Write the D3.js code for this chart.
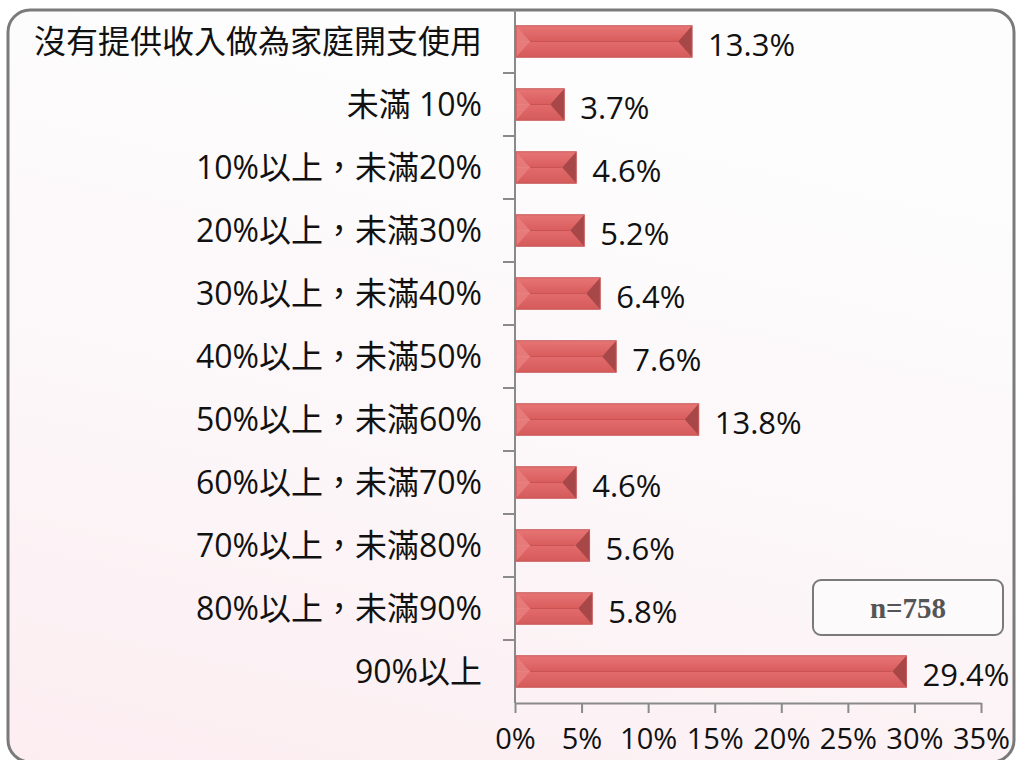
<!DOCTYPE html>
<html>
<head>
<meta charset="utf-8">
<title>家庭開支比例</title>
<script src="https://d3js.org/d3.v7.min.js"></script>
<style>
    body { margin: 0; background: #ffffff; }
    text { font-family: "Open Sans", "Noto Sans CJK TC", sans-serif; }
</style>
</head>
<body>
<div id="chart"></div>
<script>
// 資料
const categories = [
    "沒有提供收入做為家庭開支使用",
    "未滿 10%",
    "10%以上，未滿20%",
    "20%以上，未滿30%",
    "30%以上，未滿40%",
    "40%以上，未滿50%",
    "50%以上，未滿60%",
    "60%以上，未滿70%",
    "70%以上，未滿80%",
    "80%以上，未滿90%",
    "90%以上"
];
const values = [13.3, 3.7, 4.6, 5.2, 6.4, 7.6, 13.8, 4.6, 5.6, 5.8, 29.4];
const xTicks = [0, 5, 10, 15, 20, 25, 30, 35];
const sampleNote = "n=758";

const W = 1016, H = 760;
const svg = d3.select("#chart").append("svg")
    .attr("width", W).attr("height", H);

const defs = svg.append("defs");
const bg = defs.append("linearGradient").attr("id", "bg")
    .attr("x1", 0.3).attr("y1", 0).attr("x2", 0).attr("y2", 1);
bg.append("stop").attr("offset", "0%").attr("stop-color", "#fdfdfd");
bg.append("stop").attr("offset", "55%").attr("stop-color", "#fcf6f8");
bg.append("stop").attr("offset", "100%").attr("stop-color", "#fcedf1");

const gTop = defs.append("linearGradient").attr("id", "barTop")
    .attr("x1", 0).attr("y1", 0).attr("x2", 0).attr("y2", 1);
gTop.append("stop").attr("offset", "0%").attr("stop-color", "#e77575");
gTop.append("stop").attr("offset", "100%").attr("stop-color", "#d95c5c");
const gBot = defs.append("linearGradient").attr("id", "barBot")
    .attr("x1", 0).attr("y1", 0).attr("x2", 0).attr("y2", 1);
gBot.append("stop").attr("offset", "0%").attr("stop-color", "#e36b6b");
gBot.append("stop").attr("offset", "100%").attr("stop-color", "#d55b5b");

// 外框
svg.append("rect")
    .attr("x", 8).attr("y", 10).attr("width", 1006).attr("height", 752)
    .attr("rx", 22).attr("ry", 22)
    .attr("fill", "url(#bg)")
    .attr("stroke", "#7a7a7a").attr("stroke-width", 3);

const x0 = 515;
const x = d3.scaleLinear().domain([0, 35]).range([x0, 981]);
const y = d3.scaleBand().domain(categories).range([10, 703])
    .paddingInner(0.5).paddingOuter(0.25);

// y 軸
svg.append("line")
    .attr("x1", x0).attr("x2", x0).attr("y1", 10).attr("y2", 703)
    .attr("stroke", "#8a8a8a").attr("stroke-width", 2);
const gap = y.step() - y.bandwidth();
svg.selectAll(".ytick")
    .data(categories.slice(1))
    .enter().append("line")
    .attr("class", "ytick")
    .attr("x1", x0 - 12).attr("x2", x0)
    .attr("y1", d => y(d) - gap / 2)
    .attr("y2", d => y(d) - gap / 2)
    .attr("stroke", "#8a8a8a").attr("stroke-width", 2);

// x 軸
const xAxis = svg.append("g")
    .attr("transform", "translate(0,703)")
    .call(d3.axisBottom(x).tickValues(xTicks).tickFormat(d => d + "%").tickSize(10).tickSizeOuter(0));
xAxis.select(".domain").attr("stroke", "#8a8a8a").attr("stroke-width", 2);
xAxis.selectAll(".tick line").attr("stroke", "#8a8a8a").attr("stroke-width", 2);
xAxis.selectAll(".tick text")
    .attr("y", 25)
    .attr("fill", "#111")
    .style("font-size", "29px")
    .style("font-family", "'Open Sans', 'Noto Sans CJK TC', sans-serif");

// 類別標籤
svg.selectAll(".cat")
    .data(categories)
    .enter().append("text")
    .attr("class", "cat")
    .attr("x", 482)
    .attr("y", d => y(d) + y.bandwidth() / 2)
    .attr("dy", "0.36em")
    .attr("text-anchor", "end")
    .attr("fill", "#111")
    .style("font-size", "32px")
    .text(d => d);

// 長條
const bars = svg.selectAll(".bar")
    .data(categories.map((c, i) => ({ cat: c, v: values[i] })))
    .enter().append("g").attr("class", "bar");

const bw = y.bandwidth();
const bev = 14;
bars.append("rect")
    .attr("x", x0 + 1)
    .attr("y", d => y(d.cat))
    .attr("width", d => x(d.v) - x0 - 1)
    .attr("height", bw / 2)
    .attr("fill", "url(#barTop)");
bars.append("rect")
    .attr("x", x0 + 1)
    .attr("y", d => y(d.cat) + bw / 2)
    .attr("width", d => x(d.v) - x0 - 1)
    .attr("height", bw / 2)
    .attr("fill", "url(#barBot)");
// 左側斜面
bars.append("polygon")
    .attr("points", d => {
        const t = y(d.cat), b = t + bw, m = t + bw / 2, l = x0 + 1;
        return `${l},${t} ${l + bev},${m} ${l},${b}`;
    })
    .attr("fill", "#e88080").attr("opacity", 0.8);
// 右側斜面
bars.append("polygon")
    .attr("points", d => {
        const t = y(d.cat), b = t + bw, m = t + bw / 2, r = x(d.v);
        return `${r},${t} ${r - bev},${m} ${r},${b}`;
    })
    .attr("fill", "#a84748");
// 中線
bars.append("line")
    .attr("x1", x0 + 1 + bev).attr("x2", d => x(d.v) - bev)
    .attr("y1", d => y(d.cat) + bw / 2).attr("y2", d => y(d.cat) + bw / 2)
    .attr("stroke", "#c95252").attr("stroke-width", 1);
bars.append("rect")
    .attr("x", x0 + 1)
    .attr("y", d => y(d.cat))
    .attr("width", d => x(d.v) - x0 - 1)
    .attr("height", bw)
    .attr("fill", "none")
    .attr("stroke", "#c85757").attr("stroke-width", 1);

// 數值標籤
bars.append("text")
    .attr("x", d => x(d.v) + 16)
    .attr("y", d => y(d.cat) + bw / 2 + 3)
    .attr("dy", "0.36em")
    .attr("fill", "#111")
    .style("font-size", "31px")
    .text(d => d.v.toFixed(1) + "%");

// 樣本數
svg.append("rect")
    .attr("x", 813).attr("y", 580).attr("width", 190).attr("height", 55)
    .attr("rx", 8).attr("ry", 8)
    .attr("fill", "#fdfafb")
    .attr("stroke", "#7a7a7a").attr("stroke-width", 2);
svg.append("text")
    .attr("x", 908).attr("y", 608)
    .attr("dy", "0.35em")
    .attr("text-anchor", "middle")
    .attr("fill", "#555")
    .style("font-family", "'Liberation Serif', serif")
    .style("font-weight", "bold")
    .style("font-size", "29px")
    .text(sampleNote);
</script>
</body>
</html>
